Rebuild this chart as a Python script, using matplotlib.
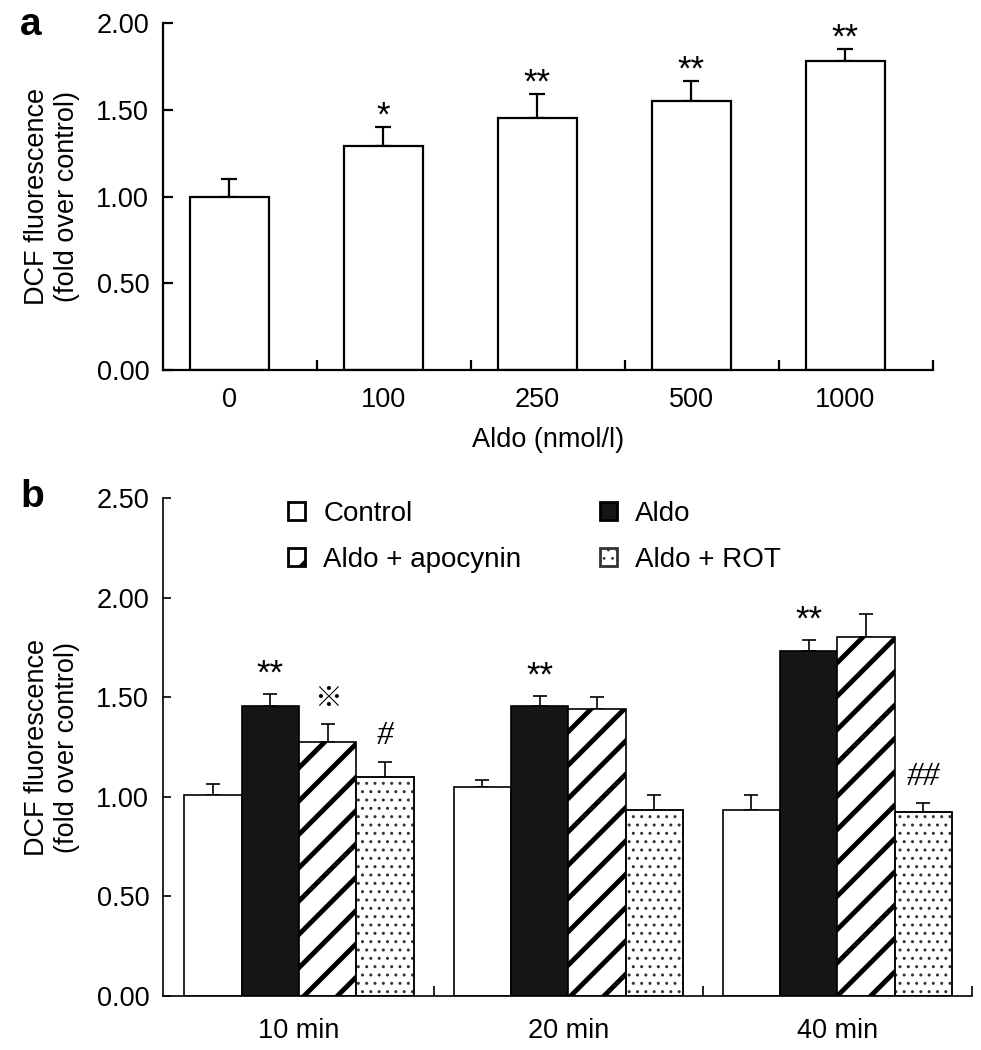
import numpy as np
import matplotlib
matplotlib.use('Agg')
import matplotlib.pyplot as plt
from matplotlib import font_manager

plt.rcParams['font.family'] = ['Liberation Sans', 'Noto Sans CJK JP', 'DejaVu Sans']
plt.rcParams['hatch.linewidth'] = 3.5

# panel a data
doses = ['0', '100', '250', '500', '1000']
dcf_a = [1.00, 1.29, 1.45, 1.55, 1.78]
err_a = [0.10, 0.11, 0.14, 0.115, 0.07]
sig_a = ['', '*', '**', '**', '**']

# panel b data
times = ['10 min', '20 min', '40 min']
groups = ['Control', 'Aldo', 'Aldo + apocynin', 'Aldo + ROT']
control = [1.01, 1.05, 0.935]
control_err = [0.055, 0.035, 0.075]
aldo = [1.455, 1.455, 1.73]
aldo_err = [0.06, 0.05, 0.055]
apocynin = [1.275, 1.44, 1.80]
apocynin_err = [0.09, 0.06, 0.12]
rot = [1.10, 0.935, 0.925]
rot_err = [0.075, 0.075, 0.045]
sig_b = [['', '**', '※', '#'], ['', '**', '', ''], ['', '**', '', '##']]

# narrow font for the time labels if there is one
names = {f.name for f in font_manager.fontManager.ttflist}
narrow = 'Liberation Sans Narrow' if 'Liberation Sans Narrow' in names else 'Liberation Sans'

# symbol styles: (font size, baseline offset in points, family, style)
sym_a = {'*': (25, 1.0), '**': (25, 1.0)}
sym_b = {'**': (25, 7.5, ['Liberation Sans'], 'normal'),
         '※': (20, 12, ['Noto Sans CJK JP', 'DejaVu Sans'], 'normal'),
         '#': (24, 13, ['Liberation Serif'], 'italic'),
         '##': (24, 13, ['Liberation Serif'], 'italic')}

fig = plt.figure(figsize=(9.81, 10.5), dpi=100)

# ---------- panel a ----------
ax1 = fig.add_axes([0.1662, 0.6476, 0.7849, 0.3305])
x = np.arange(len(doses))
ax1.bar(x, dcf_a, width=0.51, color='white', edgecolor='black', linewidth=1.6, zorder=2)
ax1.errorbar(x, dcf_a, yerr=[np.zeros(len(x)), err_a], fmt='none', ecolor='black',
             elinewidth=1.6, capsize=6, capthick=1.6, zorder=1)
for xi, v, e, s in zip(x, dcf_a, err_a, sig_a):
    if s:
        fs, off = sym_a[s]
        ax1.annotate(s, (xi, v + e), xytext=(0, off), textcoords='offset points',
                     ha='center', va='baseline', fontsize=fs)

ax1.set_xlim(-0.43, 4.57)
ax1.set_ylim(0, 2.0)
ax1.set_yticks([0, 0.5, 1.0, 1.5, 2.0])
ax1.set_yticklabels(['0.00', '0.50', '1.00', '1.50', '2.00'])
ax1.set_xticks(x)
ax1.set_xticklabels(doses)
ax1.set_xticks(x + 0.57, minor=True)
ax1.tick_params(axis='y', direction='in', length=7, width=1.6, pad=10, labelsize=19.5)
ax1.tick_params(axis='x', which='major', length=0, pad=12, labelsize=19.5)
ax1.tick_params(axis='x', which='minor', direction='in', length=7, width=1.6)
ax1.set_xlabel('Aldo (nmol/l)', fontsize=19.5, labelpad=10)
ax1.set_ylabel('DCF fluorescence\n(fold over control)', fontsize=19.5)
ax1.yaxis.set_label_coords(-0.108, 0.5)
for sp in ['top', 'right']:
    ax1.spines[sp].set_visible(False)
for sp in ['left', 'bottom']:
    ax1.spines[sp].set_linewidth(1.6)

# ---------- panel b ----------
ax2 = fig.add_axes([0.1662, 0.0514, 0.8246, 0.4743])
xb = np.arange(len(times))
w = 0.213
series = [
    (control, control_err, 'white', None, 'black'),
    (aldo, aldo_err, '#151515', None, 'black'),
    (apocynin, apocynin_err, 'white', '/', 'black'),
    (rot, rot_err, 'white', '..', '#333333'),
]
handles = []
for k, (vals, errs, fc, hatch, ec) in enumerate(series):
    pos = xb + (k - 1.5) * w
    bars = ax2.bar(pos, vals, width=w, color=fc, edgecolor=ec, hatch=hatch,
                   linewidth=1.2, zorder=2, label=groups[k])
    for b in bars:
        if hasattr(b, 'set_hatch_linewidth'):
            b.set_hatch_linewidth(3.5 if hatch == '/' else 1.0)
    if ec != 'black':
        ax2.bar(pos, vals, width=w, color='none', edgecolor='black', linewidth=1.2, zorder=3)
    handles.append(bars)
    ax2.errorbar(pos, vals, yerr=[np.zeros(len(pos)), errs], fmt='none', ecolor='black',
                 elinewidth=1.2, capsize=5, capthick=1.2, zorder=1)
    for j in range(len(pos)):
        s = sig_b[j][k]
        if s:
            fs, off, fam, sty = sym_b[s]
            ax2.annotate(s, (pos[j], vals[j] + errs[j]), xytext=(0, off),
                         textcoords='offset points', ha='center', va='baseline',
                         fontsize=fs, family=fam, style=sty)

ax2.set_xlim(-0.505, 2.5)
ax2.set_ylim(0, 2.5)
ax2.set_yticks([0, 0.5, 1.0, 1.5, 2.0, 2.5])
ax2.set_yticklabels(['0.00', '0.50', '1.00', '1.50', '2.00', '2.50'])
ax2.set_xticks(xb)
ax2.set_xticklabels(times, family=[narrow], fontsize=19.5)
ax2.set_xticks([0.5, 1.5, 2.5], minor=True)
ax2.tick_params(axis='y', direction='in', length=6, width=1.2, pad=10, labelsize=19.5)
ax2.tick_params(axis='x', which='major', length=0, pad=16)
ax2.tick_params(axis='x', which='minor', direction='in', length=7, width=1.2)
ax2.set_ylabel('DCF fluorescence\n(fold over control)', fontsize=19.5)
ax2.yaxis.set_label_coords(-0.103, 0.5)
for sp in ['top', 'right']:
    ax2.spines[sp].set_visible(False)
for sp in ['left', 'bottom']:
    ax2.spines[sp].set_linewidth(1.2)

leg = ax2.legend(handles=[handles[0], handles[2], handles[1], handles[3]],
                 labels=[groups[0], groups[2], groups[1], groups[3]],
                 ncol=2, frameon=False, fontsize=20, loc='upper left',
                 bbox_to_anchor=(0.155, 0.995), borderaxespad=0, borderpad=0,
                 handlelength=0.6, handleheight=0.6, handletextpad=0.65,
                 columnspacing=2.85, labelspacing=0.72)
for h in leg.legend_handles:
    h.set_linewidth(2.0)
    if hasattr(h, 'set_hatch_linewidth'):
        h.set_hatch_linewidth(2.5 if h.get_hatch() == '/' else 0.8)

fig.text(20 / 981, 1 - 25 / 1050, 'a', fontsize=28, fontweight='bold', va='center', ha='left')
fig.text(20 / 981, 1 - 497 / 1050, 'b', fontsize=28, fontweight='bold', va='center', ha='left')

fig.savefig('out.png', dpi=100)
